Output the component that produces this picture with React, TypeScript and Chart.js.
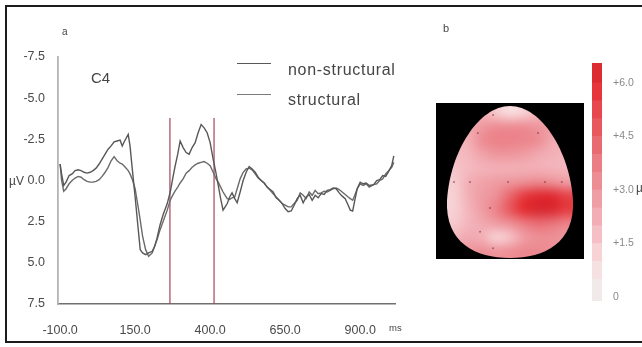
import React, { useEffect, useRef } from "react";
import { Chart, registerables } from "chart.js";

Chart.register(...registerables);

// ---------------- ERP data (panel a) ----------------
const TIMES_MS = [
  -100, -95, -88, -80, -70, -60, -50, -40, -30, -20,
  -10, 0, 10, 20, 30, 40, 50, 60, 70, 80,
  90, 100, 107, 115, 127, 133, 140, 150, 160, 167,
  175, 185, 195, 207, 215, 223, 233, 243, 257, 267,
  275, 283, 292, 300, 310, 320, 330, 340, 350, 360,
  370, 380, 390, 400, 410, 420, 427, 435, 443, 450,
  457, 465, 473, 482, 490, 500, 510, 520, 530, 540,
  550, 560, 570, 580, 590, 600, 610, 620, 630, 640,
  650, 660, 670, 680, 690, 700, 710, 720, 730, 740,
  750, 760, 770, 780, 790, 800, 810, 820, 830, 840,
  850, 860, 867, 875, 882, 890, 900, 910, 920, 930,
  945, 955, 965, 975, 985, 995, 1005, 1012,
];

const NON_STRUCTURAL_UV = [
  -1.0, -0.4, 0.3, 0.1, -0.3, -0.4, -0.6, -0.65, -0.6, -0.5,
  -0.45, -0.5, -0.6, -0.75, -1.0, -1.3, -1.6, -1.9, -2.1, -2.35,
  -2.4, -2.45, -2.1, -2.4, -2.8, -2.1, -0.8, 1.0, 2.9, 4.2,
  4.4, 4.5, 4.4, 4.3, 4.0, 3.5, 2.7, 2.1, 1.4, 0.7,
  -0.1, -0.85, -1.6, -2.4, -2.0, -1.7, -1.6, -2.0, -2.3, -2.9,
  -3.4, -3.2, -2.9, -2.3, -1.3, -0.4, 0.3, 1.1, 1.8, 1.6,
  1.4, 1.0, 0.75, 1.1, 1.35, 0.7, 0.0, -0.5, -0.85, -0.7,
  -0.5, -0.2, 0.0, 0.15, 0.4, 0.55, 0.7, 1.05, 1.2, 1.4,
  1.7, 1.9, 1.85, 1.5, 1.1, 0.9, 1.35, 1.0, 0.85, 1.2,
  0.9, 1.05, 0.8, 0.85, 0.6, 0.55, 0.45, 0.5, 0.75, 0.95,
  1.1, 1.5, 1.8, 1.85, 1.2, 0.5, 0.1, 0.2, 0.15, 0.3,
  0.25, 0.0, -0.05, -0.3, -0.25, -0.55, -0.9, -1.5,
];

const STRUCTURAL_UV = [
  -1.0, 0.0, 0.65, 0.5, 0.2, 0.0, -0.15, -0.25, -0.2, -0.05,
  0.05, 0.1, 0.1, 0.05, -0.05, -0.25, -0.5, -0.8, -1.2, -1.45,
  -1.2, -1.05, -1.0, -0.85, -0.6, -0.4, -0.1, 0.5, 1.6, 2.4,
  3.4, 4.2, 4.6, 4.4, 4.0, 3.6, 3.0, 2.5, 1.8, 1.2,
  0.9, 0.65, 0.4, 0.15, -0.1, -0.45, -0.6, -0.8, -0.95, -1.05,
  -1.1, -1.15, -1.05, -0.9, -0.5, -0.1, 0.1, 0.4, 0.7, 0.9,
  1.1, 1.15, 1.05, 1.0, 0.5, -0.1, -0.5, -0.7, -0.75, -0.65,
  -0.4, -0.15, 0.0, 0.15, 0.4, 0.6, 0.8, 1.0, 1.2, 1.4,
  1.5, 1.6, 1.6, 1.4, 1.2, 0.75, 0.9, 1.1, 0.7, 0.9,
  0.6, 0.8, 0.75, 0.65, 0.7, 0.6, 0.5, 0.45, 0.55, 0.7,
  0.85, 1.0, 1.1, 1.2, 0.9, 0.5, 0.2, 0.3, 0.2, 0.4,
  0.25, 0.2, 0.0, -0.1, -0.4, -0.6, -0.8, -1.1,
];

const SERIES_LABELS = ["non-structural", "structural"];
const WINDOW_MS = [266, 413];
const WINDOW_TOP_UV = -3.8;
const Y_TICKS_UV = [-7.5, -5, -2.5, 0, 2.5, 5, 7.5];
const X_TICKS_MS = [-100, 150, 400, 650, 900];

// ---------------- Topographic map (panel b) ----------------
const TOPO_ROW_0 = [2.4, 2.4, 2.2, 1.5, 1.0, 1.3, 2.0, 2.4, 2.4];
const TOPO_ROW_1 = [2.2, 2.4, 2.9, 3.3, 3.3, 3.3, 3.0, 2.8, 2.4];
const TOPO_ROW_2 = [2.0, 2.2, 3.3, 3.6, 3.6, 3.5, 3.3, 2.4, 2.2];
const TOPO_ROW_3 = [1.8, 2.0, 2.6, 3.0, 3.0, 2.8, 2.4, 2.2, 2.0];
const TOPO_ROW_4 = [1.6, 1.9, 2.1, 2.2, 2.2, 2.2, 2.2, 2.1, 2.0];
const TOPO_ROW_5 = [1.4, 2.2, 2.6, 2.8, 3.0, 3.2, 3.4, 3.2, 2.8];
const TOPO_ROW_6 = [1.3, 2.2, 2.8, 3.2, 4.4, 5.6, 6.2, 6.2, 5.4];
const TOPO_ROW_7 = [1.3, 2.0, 2.8, 3.6, 4.8, 6.0, 6.5, 6.4, 5.6];
const TOPO_ROW_8 = [1.5, 2.0, 2.4, 2.8, 3.2, 3.8, 4.2, 4.0, 3.6];
const TOPO_ROW_9 = [2.0, 2.4, 2.2, 1.3, 1.7, 2.8, 3.2, 3.2, 3.0];
const TOPO_ROW_10 = [2.8, 3.0, 3.2, 3.0, 3.2, 3.4, 3.4, 3.2, 3.0];
const TOPO_GRID = [
  TOPO_ROW_0, TOPO_ROW_1, TOPO_ROW_2, TOPO_ROW_3, TOPO_ROW_4, TOPO_ROW_5,
  TOPO_ROW_6, TOPO_ROW_7, TOPO_ROW_8, TOPO_ROW_9, TOPO_ROW_10,
];

const ELECTRODE_COL = [0.5, 1.64, 4.36, 7.0, 8.2, 3.29, 2.2, 6.5, 3.07, 2.36, 3.29];
const ELECTRODE_ROW = [5.5, 5.5, 5.5, 5.5, 5.5, 0.65, 1.95, 1.95, 7.38, 9.1, 10.3];

// ---------------- Colour bar ----------------
const COLORBAR_EDGES = [-0.11, 0.5, 1.0, 1.5, 2.0, 2.5, 3.0, 3.5, 4.0, 4.5, 5.0, 5.5, 6.0, 6.56];
const COLORBAR_TICKS = [0, 1.5, 3.0, 4.5, 6.0];

const COLOR_STOPS: [number, number[]][] = [
  [0, [240, 238, 238]],
  [1.0, [248, 220, 222]],
  [2.0, [243, 182, 188]],
  [3.0, [238, 150, 157]],
  [4.0, [234, 116, 123]],
  [5.0, [230, 80, 86]],
  [6.0, [228, 46, 50]],
  [6.6, [214, 40, 50]],
];

function rgbFor(v: number): number[] {
  if (v <= COLOR_STOPS[0][0]) return COLOR_STOPS[0][1];
  for (let i = 1; i < COLOR_STOPS.length; i++) {
    const [v1, c1] = COLOR_STOPS[i];
    const [v0, c0] = COLOR_STOPS[i - 1];
    if (v <= v1) {
      const t = (v - v0) / (v1 - v0);
      return c0.map((c, k) => Math.round(c + (c1[k] - c) * t));
    }
  }
  return COLOR_STOPS[COLOR_STOPS.length - 1][1];
}
const cssFor = (v: number) => {
  const [r, g, b] = rgbFor(v);
  return `rgb(${r},${g},${b})`;
};

const FONT = '"Liberation Sans", Arial, Helvetica, sans-serif';

const topoPlugin = {
  id: "topoField",
  beforeDatasetsDraw(chart: any) {
    const { ctx, chartArea: a, scales } = chart;
    const xs = scales.x;
    const ys = scales.y;
    const rows = TOPO_GRID.length;
    const cols = TOPO_GRID[0].length;
    ctx.save();
    ctx.fillStyle = "#000";
    ctx.fillRect(a.left, a.top, a.right - a.left, a.bottom - a.top);

    const left = xs.getPixelForValue(0);
    const right = xs.getPixelForValue(cols);
    const top = ys.getPixelForValue(0);
    const bottom = ys.getPixelForValue(rows);
    const cx = (left + right) / 2;
    const hw = (right - left) / 2;
    const H = bottom - top;

    ctx.beginPath();
    ctx.moveTo(cx, top);
    ctx.bezierCurveTo(cx + hw * 0.5, top, cx + hw * 0.95, top + H * 0.3, cx + hw, top + H * 0.62);
    ctx.bezierCurveTo(cx + hw * 1.03, top + H * 0.9, cx + hw * 0.55, bottom, cx, bottom);
    ctx.bezierCurveTo(cx - hw * 0.55, bottom, cx - hw * 1.03, top + H * 0.9, cx - hw, top + H * 0.62);
    ctx.bezierCurveTo(cx - hw * 0.95, top + H * 0.3, cx - hw * 0.5, top, cx, top);
    ctx.closePath();
    ctx.clip();

    const off = document.createElement("canvas");
    off.width = cols;
    off.height = rows;
    const octx = off.getContext("2d")!;
    const img = octx.createImageData(cols, rows);
    TOPO_GRID.forEach((row, r) =>
      row.forEach((v, c) => {
        const [R, G, B] = rgbFor(v);
        const k = (r * cols + c) * 4;
        img.data[k] = R;
        img.data[k + 1] = G;
        img.data[k + 2] = B;
        img.data[k + 3] = 255;
      })
    );
    octx.putImageData(img, 0, 0);
    ctx.imageSmoothingEnabled = true;
    ctx.imageSmoothingQuality = "high";
    ctx.drawImage(off, left, top, right - left, bottom - top);
    ctx.restore();
  },
};

export default function App() {
  const erpRef = useRef<HTMLCanvasElement>(null);
  const topoRef = useRef<HTMLCanvasElement>(null);
  const barRef = useRef<HTMLCanvasElement>(null);

  useEffect(() => {
    const charts: Chart[] = [];

    // ---------- ERP chart ----------
    const lineColors = ["#585858", "#6a6a6a"];
    const seriesData = [NON_STRUCTURAL_UV, STRUCTURAL_UV];
    const erp = new Chart(erpRef.current!, {
      type: "line",
      data: {
        datasets: [
          ...seriesData.map((vals, s) => ({
            label: SERIES_LABELS[s],
            data: TIMES_MS.map((t, i) => ({ x: t, y: vals[i] })),
            borderColor: lineColors[s],
            borderWidth: 1.4,
            pointRadius: 0,
            pointHoverRadius: 0,
            tension: 0,
            fill: false,
          })),
          ...WINDOW_MS.map((t) => ({
            label: `window ${t}`,
            data: [
              { x: t, y: WINDOW_TOP_UV },
              { x: t, y: Y_TICKS_UV[Y_TICKS_UV.length - 1] },
            ],
            borderColor: "#a4475a",
            borderWidth: 1.2,
            pointRadius: 0,
            pointHoverRadius: 0,
            fill: false,
          })),
        ],
      },
      options: {
        animation: false,
        responsive: false,
        maintainAspectRatio: false,
        layout: { autoPadding: false, padding: { left: 0, top: 57, right: 25, bottom: 13 } },
        plugins: { legend: { display: false }, tooltip: { enabled: false } },
        scales: {
          x: {
            type: "linear",
            min: -107,
            max: 1016,
            grid: { display: false },
            border: { display: true, color: "#707070", width: 1.5 },
            afterBuildTicks: (s: any) => {
              s.ticks = X_TICKS_MS.map((v) => ({ value: v }));
            },
            afterFit: (s: any) => {
              s.height = 30;
              s.paddingLeft = 0;
              s.paddingRight = 0;
            },
            ticks: {
              autoSkip: false,
              maxRotation: 0,
              padding: 11,
              color: "#4a4a4a",
              font: { family: FONT, size: 12.5 },
              callback: (v: any) => Number(v).toFixed(1),
            },
          },
          y: {
            type: "linear",
            min: -7.5,
            max: 7.5,
            reverse: true,
            grid: { display: false },
            border: { display: true, color: "#b4b4b4", width: 1.8 },
            afterBuildTicks: (s: any) => {
              s.ticks = Y_TICKS_UV.map((v) => ({ value: v }));
            },
            afterFit: (s: any) => {
              s.width = 58;
              s.paddingTop = 0;
              s.paddingBottom = 0;
            },
            ticks: {
              padding: 5,
              color: "#4a4a4a",
              font: { family: FONT, size: 12.5 },
              callback: (v: any) => Number(v).toFixed(1),
            },
          },
        },
      },
    } as any);
    charts.push(erp);

    // ---------- Topographic map ----------
    const topo = new Chart(topoRef.current!, {
      type: "scatter",
      data: {
        datasets: [
          {
            label: "electrodes",
            data: ELECTRODE_COL.map((c, i) => ({ x: c, y: ELECTRODE_ROW[i] })),
            pointRadius: 1,
            pointHoverRadius: 1,
            backgroundColor: "rgba(110,40,45,0.55)",
            borderWidth: 0,
          },
        ],
      },
      options: {
        animation: false,
        responsive: false,
        maintainAspectRatio: false,
        layout: { autoPadding: false, padding: 0 },
        plugins: { legend: { display: false }, tooltip: { enabled: false } },
        scales: {
          x: { type: "linear", display: false, min: -0.786, max: 9.786 },
          y: { type: "linear", display: false, min: -0.217, max: 11.072, reverse: true },
        },
      },
      plugins: [topoPlugin],
    } as any);
    charts.push(topo);

    // ---------- Colour bar ----------
    const segs = COLORBAR_EDGES.slice(0, -1).map((lo, i) => [lo, COLORBAR_EDGES[i + 1]]);
    const bar = new Chart(barRef.current!, {
      type: "bar",
      data: {
        labels: ["µV"],
        datasets: segs.map(([lo, hi]) => ({
          label: `${lo}-${hi}`,
          data: [[lo, hi]],
          backgroundColor: cssFor((Math.max(lo, 0) + hi) / 2),
          borderWidth: 0,
          barPercentage: 1,
          categoryPercentage: 1,
          grouped: false,
        })),
      },
      options: {
        animation: false,
        responsive: false,
        maintainAspectRatio: false,
        layout: { autoPadding: false, padding: 0 },
        plugins: { legend: { display: false }, tooltip: { enabled: false } },
        scales: {
          x: { display: false },
          y: {
            position: "right",
            min: -0.11,
            max: 6.56,
            grid: { display: false },
            border: { display: false },
            afterBuildTicks: (s: any) => {
              s.ticks = COLORBAR_TICKS.map((v) => ({ value: v }));
            },
            afterFit: (s: any) => {
              s.width = 35;
              s.paddingTop = 0;
              s.paddingBottom = 0;
            },
            ticks: {
              padding: 3,
              color: "#8a8a8a",
              font: { family: FONT, size: 10.5 },
              callback: (v: any) => (Number(v) === 0 ? "0" : "+" + Number(v).toFixed(1)),
            },
          },
        },
      },
    } as any);
    charts.push(bar);

    return () => charts.forEach((c) => c.destroy());
  }, []);

  const txt = (
    s: string,
    left: number,
    top: number,
    size: number,
    extra: React.CSSProperties = {}
  ) => (
    <span
      style={{
        position: "absolute",
        left,
        top,
        fontSize: size,
        lineHeight: 1,
        fontFamily: FONT,
        color: "#454545",
        whiteSpace: "nowrap",
        ...extra,
      }}
    >
      {s}
    </span>
  );

  return (
    <div
      style={{
        position: "fixed",
        left: 0,
        top: 0,
        width: 642,
        height: 347,
        background: "#fff",
        overflow: "hidden",
      }}
    >
      <div
        style={{
          position: "absolute",
          left: 5,
          top: 5,
          width: 650,
          height: 338,
          border: "2px solid #1c1c1c",
          boxSizing: "border-box",
        }}
      />
      <canvas
        ref={erpRef}
        width={420}
        height={347}
        style={{ position: "absolute", left: 0, top: 0, width: 420, height: 347 }}
      />
      <canvas
        ref={topoRef}
        width={148}
        height={156}
        style={{ position: "absolute", left: 436, top: 103, width: 148, height: 156 }}
      />
      <canvas
        ref={barRef}
        width={45}
        height={238}
        style={{ position: "absolute", left: 592, top: 63, width: 45, height: 238 }}
      />
      {txt("a", 62, 27, 10)}
      {txt("C4", 91, 70, 15)}
      {txt("µV", 9, 175, 12)}
      {txt("ms", 389, 323, 9.5)}
      {SERIES_LABELS.map((label, i) => (
        <React.Fragment key={label}>
          <div
            style={{
              position: "absolute",
              left: 237,
              top: i === 0 ? 63 : 94,
              width: 34,
              height: 0,
              borderTop: `1.4px solid ${i === 0 ? "#585858" : "#7a7a7a"}`,
            }}
          />
          {txt(label, 288, i === 0 ? 62 : 91.5, 16, { letterSpacing: 0.7 })}
        </React.Fragment>
      ))}
      {txt("b", 443, 23, 11)}
      {txt("µV", 636, 182, 12)}
    </div>
  );
}
